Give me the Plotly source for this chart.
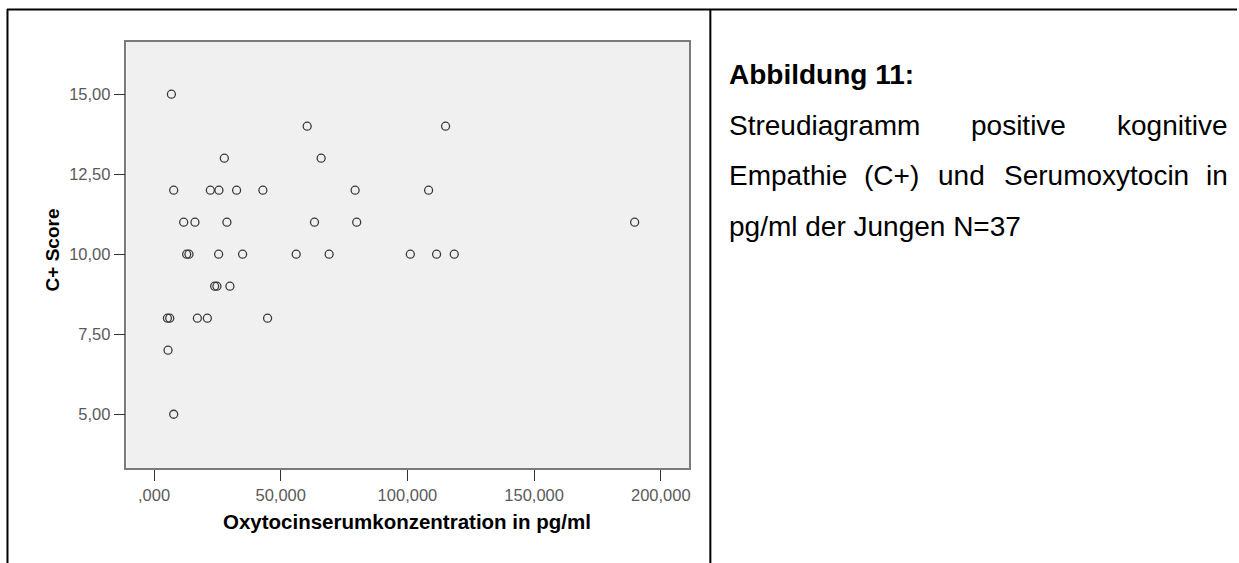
import plotly.graph_objects as go

# ---- data ----
oxytocin_pg_ml = [6855,
                  60440, 115050,
                  27740, 65950,
                  7760, 22220, 25610, 32580, 42950, 79350, 108350,
                  11700, 16150, 28760, 63320, 79980, 189670,
                  12880, 13790, 25490, 34950, 56100, 69100, 101140, 111500, 118480,
                  23920, 24820, 29940,
                  5280, 6190, 17100, 21040, 44800,
                  5520,
                  7760]
c_plus_score = [15,
                14, 14,
                13, 13,
                12, 12, 12, 12, 12, 12, 12,
                11, 11, 11, 11, 11, 11,
                10, 10, 10, 10, 10, 10, 10, 10, 10,
                9, 9, 9,
                8, 8, 8, 8, 8,
                7,
                5]

x_tick_vals = [0, 50000, 100000, 150000, 200000]
x_tick_text = [",000", "50,000", "100,000", "150,000", "200,000"]
y_tick_vals = [5, 7.5, 10, 12.5, 15]
y_tick_text = ["5,00", "7,50", "10,00", "12,50", "15,00"]

x_title = "Oxytocinserumkonzentration in pg/ml"
y_title = "C+ Score"
caption_title = "Abbildung 11:"
caption_line2 = ["Streudiagramm", "positive", "kognitive"]
caption_line3 = ["Empathie", "(C+)", "und", "Serumoxytocin", "in"]
caption_last = "pg/ml der Jungen N=37"

W, H = 1239, 563


def px(x):
    return x / W


def py(y):
    return 1 - y / H


FONT = "Liberation Sans, Arial, sans-serif"

fig = go.Figure()
fig.add_trace(go.Scatter(
    x=oxytocin_pg_ml, y=c_plus_score, mode="markers",
    marker=dict(symbol="circle-open", size=8, color="#3a3a3a",
                line=dict(width=1.3, color="#3a3a3a")),
    showlegend=False, hoverinfo="skip"))

fig.update_layout(
    width=W, height=H,
    margin=dict(l=0, r=0, t=0, b=0),
    paper_bgcolor="white",
    plot_bgcolor="#F0F0F0",
    font=dict(family=FONT),
    xaxis=dict(domain=[px(126.7), px(690)], range=[-10870, 211070],
               showgrid=False, zeroline=False,
               showline=True, mirror=True, linecolor="#7a7a7a", linewidth=1.5,
               ticks="outside", ticklen=11, tickwidth=1.2, tickcolor="#333",
               tickvals=x_tick_vals, ticktext=x_tick_text,
               tickfont=dict(size=16.5, color="#5a5a5a", family=FONT)),
    yaxis=dict(domain=[py(468), py(41.7)], range=[3.32, 16.64],
               showgrid=False, zeroline=False,
               showline=True, mirror=True, linecolor="#7a7a7a", linewidth=1.5,
               ticks="outside", ticklen=11, tickwidth=1.2, tickcolor="#333",
               tickvals=y_tick_vals, ticktext=y_tick_text,
               tickfont=dict(size=16.5, color="#5a5a5a", family=FONT)),
)

# table borders of the document
line = dict(color="black", width=2)
fig.update_layout(shapes=[
    dict(type="line", xref="paper", yref="paper", x0=px(7), x1=1, y0=py(9.5), y1=py(9.5), line=line),
    dict(type="line", xref="paper", yref="paper", x0=px(7.5), x1=px(7.5), y0=py(9), y1=0, line=line),
    dict(type="line", xref="paper", yref="paper", x0=px(711.5), x1=px(711.5), y0=py(9), y1=0, line=line),
])


def anno(text, x, y, xanchor="left", size=28, angle=0, color="black"):
    return dict(text=text, x=px(x), y=py(y), xref="paper", yref="paper",
                xanchor=xanchor, yanchor="middle", showarrow=False, textangle=angle,
                font=dict(size=size, color=color, family=FONT))


annos = [
    # axis titles
    anno("<b>" + x_title + "</b>", 407.5, 521, "center", 20.5),
    anno("<b>" + y_title + "</b>", 52.5, 250, "center", 19, angle=-90),
    # caption (justified lines)
    anno("<b>" + caption_title + "</b>", 728, 74, "left", 28),
]
line2_x = [(728, "left"), (1020, "center"), (1231.5, "right")]
for w, (xx, xa) in zip(caption_line2, line2_x):
    annos.append(anno(w, xx, 125, xa, 28))
line3_x = [(728, "left"), (893, "center"), (963, "center"), (1098, "center"), (1231.5, "right")]
for w, (xx, xa) in zip(caption_line3, line3_x):
    annos.append(anno(w, xx, 176, xa, 28))
annos.append(anno(caption_last, 728, 227, "left", 28))
fig.update_layout(annotations=annos)

fig.write_html("out.html", config={"displayModeBar": False},
               post_script="document.body.style.margin='0px';")
